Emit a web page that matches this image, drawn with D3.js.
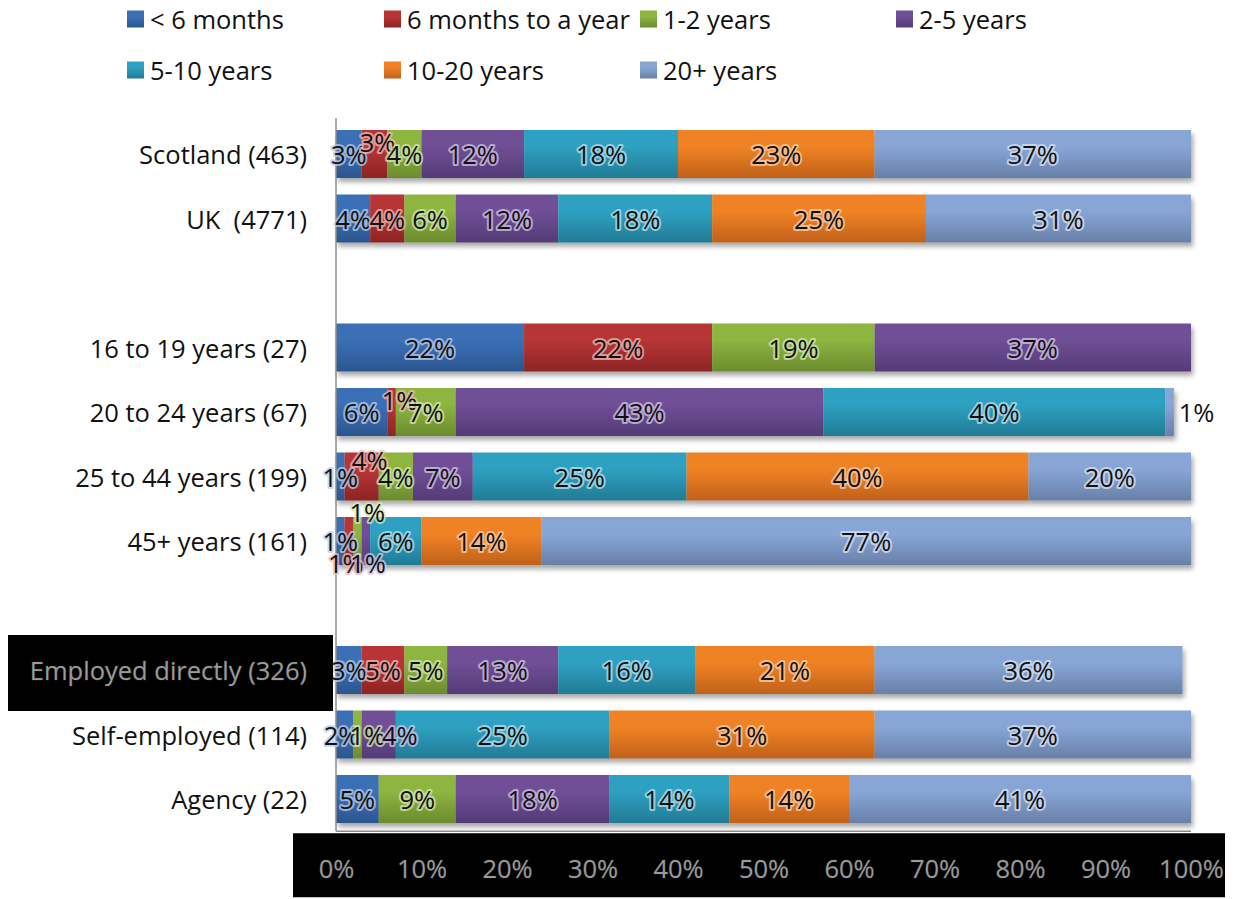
<!DOCTYPE html>
<html>
<head>
<meta charset="utf-8">
<script src="https://cdn.jsdelivr.net/npm/d3@7"></script>
<style>
  html, body { margin: 0; padding: 0; background: #fff; }
  svg { display: block; }
  text { font-family: "Open Sans", Lato, sans-serif; }
</style>
</head>
<body>
<svg id="chart" width="1243" height="899"></svg>
<script>
// ---- data ----
const categories = ["Scotland (463)", "UK  (4771)", "", "16 to 19 years (27)", "20 to 24 years (67)",
  "25 to 44 years (199)", "45+ years (161)", "", "Employed directly (326)", "Self-employed (114)", "Agency (22)"];
const seriesNames = ["< 6 months", "6 months to a year", "1-2 years", "2-5 years", "5-10 years", "10-20 years", "20+ years"];
const lt6months   = [3, 4, null, 22, 6, 1, 1, null, 3, 2, 5];
const m6toYear    = [3, 4, null, 22, 1, 4, 1, null, 5, 0, 0];
const y1to2       = [4, 6, null, 19, 7, 4, 1, null, 5, 1, 9];
const y2to5       = [12, 12, null, 37, 43, 7, 1, null, 13, 4, 18];
const y5to10      = [18, 18, null, 0, 40, 25, 6, null, 16, 25, 14];
const y10to20     = [23, 25, null, 0, 0, 40, 14, null, 21, 31, 14];
const y20plus     = [37, 31, null, 0, 1, 20, 77, null, 36, 37, 41];
const tickValues  = [0, 10, 20, 30, 40, 50, 60, 70, 80, 90, 100];

const seriesValues = [lt6months, m6toYear, y1to2, y2to5, y5to10, y10to20, y20plus];
const colorsTop    = ["#3b6fb6", "#b83535", "#8db541", "#6f4f97", "#2fa0c1", "#f08225", "#87a6d6"];
const colorsBottom = ["#2b568f", "#8c2424", "#6b8b2e", "#543b76", "#217b95", "#c0611a", "#6880a8"];
const haloColors   = ["#b9cdeb", "#f0b9b9", "#d6e8b4", "#d5c6e8", "#b5e2ef", "#fbd0ab", "#d8e3f3"];
// label nudges for crowded small segments: [categoryIndex, seriesIndex, dx, dy]
const labelNudges = [[0,1,3,-12],[4,1,8,-12],[4,6,27,0],[5,1,8,-17],
  [6,1,-3,22],[6,2,10,-29],[6,3,2,22],[9,0,-3,0],[9,2,10,0],[9,3,21,0]];

// ---- layout ----
const svg = d3.select("#chart");
const x = d3.scaleLinear().domain([0, 100]).range([336, 1191]).clamp(true);
const y = d3.scaleBand().domain(d3.range(categories.length)).range([121.75, 831.25])
  .paddingInner(0.256).paddingOuter(0.128);
const FS = 25.5;

const defs = svg.append("defs");
seriesNames.forEach((s, i) => {
  const g = defs.append("linearGradient").attr("id", "grad" + i)
    .attr("x1", 0).attr("y1", 0).attr("x2", 0).attr("y2", 1);
  g.append("stop").attr("offset", "0%").attr("stop-color", colorsTop[i]);
  g.append("stop").attr("offset", "35%").attr("stop-color", colorsTop[i]);
  g.append("stop").attr("offset", "100%").attr("stop-color", colorsBottom[i]);
});
const f = defs.append("filter").attr("id", "shadow").attr("x", "-5%").attr("y", "-20%")
  .attr("width", "110%").attr("height", "160%");
f.append("feDropShadow").attr("dx", 2).attr("dy", 4).attr("stdDeviation", 2.5)
  .attr("flood-color", "#000").attr("flood-opacity", 0.35);

// stacked data
const rows = categories.map((c, ci) => {
  let acc = 0;
  const segs = [];
  seriesValues.forEach((arr, si) => {
    const v = arr[ci];
    if (v == null) return;
    segs.push({ ci, si, v, x0: acc, x1: acc + v });
    acc += v;
  });
  return { ci, segs };
});

// bars
const barG = svg.append("g");
rows.forEach(r => {
  if (!r.segs.length) return;
  const g = barG.append("g").attr("filter", "url(#shadow)");
  g.selectAll("rect").data(r.segs.filter(d => d.v > 0)).join("rect")
    .attr("x", d => x(d.x0))
    .attr("width", d => Math.max(0, x(d.x1) - x(d.x0)))
    .attr("y", y(r.ci))
    .attr("height", y.bandwidth())
    .attr("fill", d => "url(#grad" + d.si + ")");
});

// axes lines
svg.append("line").attr("x1", x(0)).attr("x2", x(0)).attr("y1", 118).attr("y2", y.range()[1])
  .attr("stroke", "#8c8c8c").attr("stroke-width", 1.5);
svg.append("line").attr("x1", x(0)).attr("x2", x(100)).attr("y1", y.range()[1]).attr("y2", y.range()[1])
  .attr("stroke", "#8c8c8c").attr("stroke-width", 1.5);

// data labels
const nudge = {};
labelNudges.forEach(([c, s, dx, dy]) => { nudge[c + "_" + s] = [dx, dy]; });
const labG = svg.append("g");
rows.forEach(r => {
  r.segs.filter(d => d.v > 0).forEach(d => {
    const n = nudge[d.ci + "_" + d.si] || [0, 0];
    const outside = n[0] > 20 && d.si === 6;
    const t = labG.append("text")
      .attr("x", (x(d.x0) + x(d.x1)) / 2 + n[0])
      .attr("y", y(d.ci) + y.bandwidth() / 2 + n[1])
      .attr("text-anchor", "middle").attr("dominant-baseline", "central")
      .attr("font-size", FS).attr("fill", "#111")
      .text(d.v + "%");
    if (!outside) {
      t.attr("stroke", haloColors[d.si]).attr("stroke-width", 4).attr("stroke-opacity", 0.75)
        .attr("stroke-linejoin", "round").attr("paint-order", "stroke");
    }
  });
});

// category labels
const catG = svg.append("g");
categories.forEach((c, ci) => {
  if (!c) return;
  const special = c.startsWith("Employed");
  const cy = y(ci) + y.bandwidth() / 2;
  if (special) {
    catG.append("rect").attr("x", 8).attr("y", cy - 35).attr("width", x(0) - 11).attr("height", 76)
      .attr("fill", "#000");
  }
  const t = catG.append("text").attr("x", 307).attr("y", cy)
    .attr("text-anchor", "end").attr("dominant-baseline", "central")
    .attr("font-size", FS).style("white-space", "pre").text(c);
  if (special) {
    t.attr("fill", "#9a9a9a").attr("stroke", "#1a1a1a").attr("stroke-width", 1.2)
      .attr("paint-order", "stroke");
  } else {
    t.attr("fill", "#111");
  }
});

// x axis tick labels (on dark band)
const axisY = y.range()[1];
svg.append("rect").attr("x", x(0) - 43).attr("y", axisY + 2).attr("width", x(100) - x(0) + 77)
  .attr("height", 64).attr("fill", "#000");
const axisG = svg.append("g").attr("transform", `translate(0,${axisY + 37})`)
  .call(d3.axisBottom(x).tickValues(tickValues).tickFormat(d => d + "%").tickSize(0).tickPadding(0));
axisG.select(".domain").remove();
axisG.selectAll("text")
  .attr("font-family", "'Open Sans', sans-serif").attr("font-size", FS)
  .attr("dy", "0")
  .attr("dominant-baseline", "central")
  .attr("fill", "#9a9a9a").attr("stroke", "#1a1a1a").attr("stroke-width", 1.2)
  .attr("paint-order", "stroke");

// legend
const legendCols = [127, 384, 640, 896];
const legendRows = [19, 70];
const legG = svg.append("g");
seriesNames.forEach((name, si) => {
  const col = si < 4 ? si : si - 4;
  const row = si < 4 ? 0 : 1;
  const lx = legendCols[col], ly = legendRows[row];
  legG.append("rect").attr("x", lx).attr("y", ly - 8.5).attr("width", 17).attr("height", 17)
    .attr("fill", "url(#grad" + si + ")");
  legG.append("text").attr("x", lx + 23).attr("y", ly).attr("dominant-baseline", "central")
    .attr("font-size", FS).attr("fill", "#111").text(name);
});
</script>
</body>
</html>
